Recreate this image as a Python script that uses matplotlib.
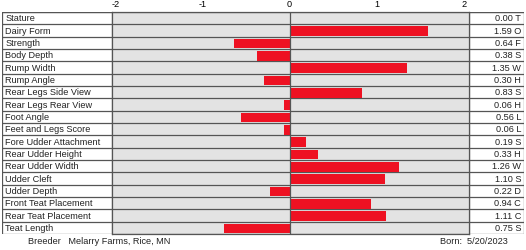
import matplotlib
matplotlib.use("Agg")
import matplotlib.pyplot as plt
from matplotlib.patches import Rectangle

traits = ["Stature", "Dairy Form", "Strength", "Body Depth", "Rump Width",
          "Rump Angle", "Rear Legs Side View", "Rear Legs Rear View",
          "Foot Angle", "Feet and Legs Score", "Fore Udder Attachment",
          "Rear Udder Height", "Rear Udder Width", "Udder Cleft",
          "Udder Depth", "Front Teat Placement", "Rear Teat Placement",
          "Teat Length"]
values = [0.00, 1.59, -0.64, -0.38, 1.35, -0.30, 0.83, -0.06, -0.56,
          -0.06, 0.19, 0.33, 1.26, 1.10, -0.22, 0.94, 1.11, -0.75]
codes = ["T", "O", "F", "S", "W", "H", "S", "H", "L", "L", "S", "H", "W",
         "S", "D", "C", "C", "S"]
ticks = [-2, -1, 0, 1, 2]
breeder = "Breeder   Melarry Farms, Rice, MN"
born = "Born:  5/20/2023"

plt.rcParams["font.family"] = ["Liberation Sans", "DejaVu Sans"]
W, H = 526, 250
fig = plt.figure(figsize=(W / 100, H / 100), dpi=100)
fig.patch.set_facecolor("white")

top, bot = 12, 234
n = len(traits)
line_c = "#555555"
fs = 6.6


def px_axes(x0, x1):
    return fig.add_axes([x0 / W, (H - bot) / H, (x1 - x0) / W, (bot - top) / H])


# bar area
ax = px_axes(112, 469)
ax.set_facecolor("#e3e3e3")
ax.set_xlim(-2.04, 2.06)
ax.set_ylim(n, 0)
ax.barh([i + 0.55 for i in range(n)], values, height=0.78, color="#ee1122", zorder=3)
for i in range(n + 1):
    ax.axhline(i, color=line_c, lw=0.9, zorder=2)
ax.axvline(0, color=line_c, lw=0.9, zorder=4)
ax.xaxis.tick_top()
ax.set_xticks(ticks)
ax.set_xticklabels([str(t) for t in ticks], fontsize=fs)
ax.tick_params(axis="x", length=0, pad=2)
ax.set_yticks([])
for s in ax.spines.values():
    s.set_color(line_c)
    s.set_linewidth(0.9)

# label column
axl = px_axes(2, 112)
axl.set_xlim(0, 1)
axl.set_ylim(n, 0)
axl.axis("off")
axl.add_patch(Rectangle((0, 0), 1, n, fill=False, ec=line_c, lw=0.9))
for i, t in enumerate(traits):
    axl.axhline(i, color=line_c, lw=0.9)
    axl.text(0.03, i + 0.55, t, fontsize=fs, va="center", ha="left", color="#222")

# value column
axr = px_axes(469, 524)
axr.set_xlim(0, 1)
axr.set_ylim(n, 0)
axr.axis("off")
axr.add_patch(Rectangle((0, 0), 1, n, fill=False, ec=line_c, lw=0.9))
for i, (v, c) in enumerate(zip(values, codes)):
    axr.axhline(i, color=line_c, lw=0.9)
    axr.text(0.95, i + 0.55, f"{abs(v):.2f} {c}", fontsize=fs, va="center",
             ha="right", color="#222")

fig.text(28 / W, 1 - 242 / H, breeder, fontsize=fs, va="center", ha="left", color="#222")
fig.text(440 / W, 1 - 242 / H, born, fontsize=fs, va="center", ha="left", color="#222")

fig.savefig("out.png", dpi=100)
